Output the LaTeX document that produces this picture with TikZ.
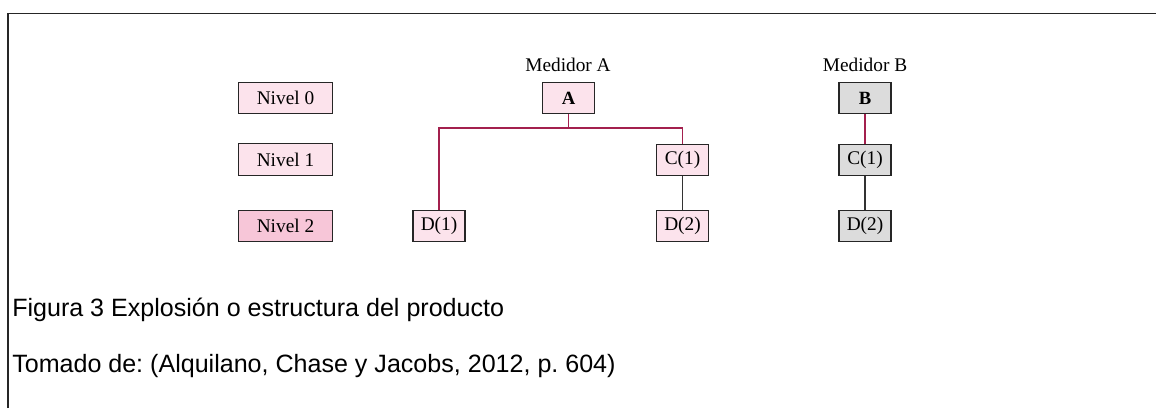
\documentclass[tikz,border=0pt]{standalone}
\usepackage{fontspec}
\setmainfont{Liberation Serif}
\newfontfamily\capfont{Liberation Sans}
\frenchspacing
\definecolor{pinkfill}{HTML}{FCE3EC}
\definecolor{pinkdark}{HTML}{F7C6D8}
\definecolor{grayfill}{HTML}{DCDCDC}
\definecolor{linkred}{HTML}{A3204E}
\definecolor{linkdark}{HTML}{333333}
\begin{document}
\begin{tikzpicture}[x=0.75pt,y=-0.75pt,
  boxbase/.style={draw=black!85,line width=0.9pt,inner sep=0pt,font=\fontsize{14.5}{16}\selectfont},
  lvl/.style={boxbase,fill=pinkfill,minimum width=71pt,minimum height=23.5pt},
  lvltwo/.style={boxbase,fill=pinkdark,minimum width=71pt,minimum height=23pt},
  pbox/.style={boxbase,fill=pinkfill,minimum width=39pt,minimum height=23.5pt},
  gbox/.style={boxbase,fill=grayfill,minimum width=39pt,minimum height=23.5pt},
  rlink/.style={draw=linkred,line width=1pt},
  dlink/.style={draw=linkdark,line width=1pt},
  ttl/.style={font=\fontsize{14.5}{16}\selectfont},
  capt/.style={anchor=base west,inner sep=0pt,font=\capfont\fontsize{18.8}{22}\selectfont\frenchspacing}]
\useasboundingbox (0,0) rectangle (1156,408);
\draw[line width=1.3pt,black!85] (8,408) -- (8,13.5) -- (1156,13.5);
% level labels
\node[lvl] (n0) at (285.5,98) {Nivel 0};
\node[lvl] (n1) at (285.5,159.5) {Nivel 1};
\node[lvltwo] (n2) at (285.5,226) {Nivel 2};
% product A
\node[ttl] (ta) at (568,65) {Medidor A};
\node[pbox,font=\bfseries\fontsize{14}{16}\selectfont] (a) at (568.5,98) {A};
\node[pbox] (d1) at (439,226) {D(1)};
\node[pbox] (c1) at (682.5,160) {C(1)};
\node[pbox] (d2) at (682.5,226) {D(2)};
\coordinate (ja) at (568.5,128);
\draw[rlink] (a.south) -- (ja) -| (d1.north);
\draw[rlink] (ja) -| (c1.north);
\draw[dlink] (c1.south) -- (d2.north);
% product B
\node[ttl] (tb) at (865,65) {Medidor B};
\node[gbox,font=\bfseries\fontsize{14}{16}\selectfont] (b) at (865,98) {B};
\node[gbox] (cb) at (865,160) {C(1)};
\node[gbox] (db) at (865,226) {D(2)};
\draw[rlink] (b.south) -- (cb.north);
\draw[dlink] (cb.south) -- (db.north);
% captions
\node[capt] (cap1) at (12,316) {Figura 3 Explosión o estructura del producto};
\node[capt] (cap2) at (12,372) {Tomado de: (Alquilano, Chase y Jacobs, 2012, p. 604)};
\end{tikzpicture}
\end{document}
